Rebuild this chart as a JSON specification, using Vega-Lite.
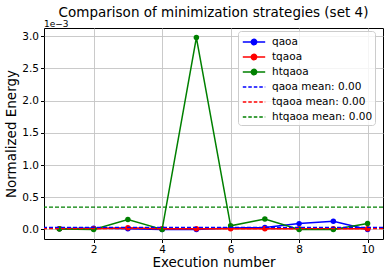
{
  "$schema": "https://vega.github.io/schema/vega-lite/v6.json",
  "width": 339,
  "height": 211,
  "autosize": {"type": "none"},
  "padding": {"left": 44, "top": 28, "right": 6, "bottom": 38},
  "title": {"text": "Comparison of minimization strategies (set 4)", "fontSize": 13.5, "fontWeight": "normal", "color": "black", "anchor": "middle", "offset": 1},
  "config": {
    "font": "DejaVu Sans",
    "view": {"stroke": "black", "strokeWidth": 1},
    "axis": {
      "domain": false,
      "grid": true,
      "gridColor": "#c4c4c4",
      "gridWidth": 0.9,
      "tickColor": "black",
      "tickSize": 3.5,
      "labelColor": "black",
      "labelFontSize": 10.5,
      "labelPadding": 2,
      "labelOverlap": false,
      "titleColor": "black",
      "titleFontSize": 13.5,
      "titleFontWeight": "normal"
    }
  },
  "datasets": {
    "runs": [
      {"execution": 1, "strategy": "qaoa", "energy": 0.00001},
      {"execution": 2, "strategy": "qaoa", "energy": 0.00002},
      {"execution": 3, "strategy": "qaoa", "energy": 0.00001},
      {"execution": 4, "strategy": "qaoa", "energy": 0.0},
      {"execution": 5, "strategy": "qaoa", "energy": 0.0},
      {"execution": 6, "strategy": "qaoa", "energy": 0.00002},
      {"execution": 7, "strategy": "qaoa", "energy": 0.00003},
      {"execution": 8, "strategy": "qaoa", "energy": 0.00009},
      {"execution": 9, "strategy": "qaoa", "energy": 0.000125},
      {"execution": 10, "strategy": "qaoa", "energy": 0.0},
      {"execution": 1, "strategy": "tqaoa", "energy": 0.00001},
      {"execution": 2, "strategy": "tqaoa", "energy": 0.00001},
      {"execution": 3, "strategy": "tqaoa", "energy": 0.000025},
      {"execution": 4, "strategy": "tqaoa", "energy": 0.00001},
      {"execution": 5, "strategy": "tqaoa", "energy": 0.00001},
      {"execution": 6, "strategy": "tqaoa", "energy": 0.00001},
      {"execution": 7, "strategy": "tqaoa", "energy": 0.00001},
      {"execution": 8, "strategy": "tqaoa", "energy": 0.00001},
      {"execution": 9, "strategy": "tqaoa", "energy": 0.00001},
      {"execution": 10, "strategy": "tqaoa", "energy": 0.00001},
      {"execution": 1, "strategy": "htqaoa", "energy": 0.000005},
      {"execution": 2, "strategy": "htqaoa", "energy": 0.0},
      {"execution": 3, "strategy": "htqaoa", "energy": 0.000155},
      {"execution": 4, "strategy": "htqaoa", "energy": 0.0},
      {"execution": 5, "strategy": "htqaoa", "energy": 0.00298},
      {"execution": 6, "strategy": "htqaoa", "energy": 0.000056},
      {"execution": 7, "strategy": "htqaoa", "energy": 0.00016},
      {"execution": 8, "strategy": "htqaoa", "energy": 0.0},
      {"execution": 9, "strategy": "htqaoa", "energy": 0.0},
      {"execution": 10, "strategy": "htqaoa", "energy": 0.000093}
    ],
    "means": [
      {"strategy": "qaoa mean: 0.00", "mean": 0.0000305},
      {"strategy": "tqaoa mean: 0.00", "mean": 0.000012},
      {"strategy": "htqaoa mean: 0.00", "mean": 0.000345}
    ],
    "exponent": [{"label": "1e−3"}]
  },
  "layer": [
    {
      "data": {"name": "runs"},
      "transform": [{"filter": "datum.strategy === 'qaoa'"}],
      "mark": {"type": "line", "strokeWidth": 1.5, "point": {"filled": true, "size": 30}},
      "encoding": {
        "x": {"field": "execution", "type": "quantitative", "scale": {"domain": [0.55, 10.45], "nice": false, "zero": false}, "axis": {"values": [2, 4, 6, 8, 10], "title": "Execution number", "titlePadding": 0}},
        "y": {"field": "energy", "type": "quantitative", "scale": {"domain": [-0.000149, 0.003129], "nice": false, "zero": false}, "axis": {"values": [0, 0.0005, 0.001, 0.0015, 0.002, 0.0025, 0.003], "labelExpr": "format(datum.value * 1000, '.1f')", "title": "Normalized Energy", "titlePadding": 3}},
        "color": {
          "field": "strategy", "type": "nominal",
          "scale": {
            "domain": ["qaoa", "tqaoa", "htqaoa", "qaoa mean: 0.00", "tqaoa mean: 0.00", "htqaoa mean: 0.00"],
            "range": ["#0000ff", "#ff0000", "#008000", "#0000ff", "#ff0000", "#008000"]
          },
          "legend": {
            "title": null,
            "orient": "none",
            "legendX": 194,
            "legendY": 3,
            "padding": 2,
            "fillColor": "rgba(255,255,255,0.8)",
            "strokeColor": "#cccccc",
            "cornerRadius": 3,
            "labelFontSize": 10.5,
            "labelColor": "black",
            "labelOffset": 9,
            "symbolSize": 256,
            "symbolOffset": 5,
            "symbolStrokeWidth": 1.5,
            "rowPadding": 0,
            "encode": {
              "legend": {"update": {"width": {"value": 140}}},
              "symbols": {
                "update": {
                  "shape": {"signal": "indexof(datum.value + '', 'mean') >= 0 ? 'M-1.4,0L1.4,0' : 'M-1.4,0L1.4,0M0.33,0A0.33,0.33 0 1,1 -0.33,0A0.33,0.33 0 1,1 0.33,0Z'"},
                  "strokeDash": {"signal": "indexof(datum.value + '', 'mean') >= 0 ? [3.5, 2] : [1, 0]"},
                  "fill": {"signal": "indexof(datum.value + '', 'mean') >= 0 ? 'transparent' : scale('color', datum.value)"},
                  "stroke": {"signal": "scale('color', datum.value)"},
                  "opacity": {"value": 1}
                }
              }
            }
          }
        }
      }
    },
    {
      "data": {"name": "runs"},
      "transform": [{"filter": "datum.strategy === 'tqaoa'"}],
      "mark": {"type": "line", "strokeWidth": 1.5, "point": {"filled": true, "size": 30}},
      "encoding": {
        "x": {"field": "execution", "type": "quantitative", "scale": {"domain": [0.55, 10.45], "nice": false, "zero": false}, "axis": {"values": [2, 4, 6, 8, 10], "title": "Execution number", "titlePadding": 0}},
        "y": {"field": "energy", "type": "quantitative", "scale": {"domain": [-0.000149, 0.003129], "nice": false, "zero": false}, "axis": {"values": [0, 0.0005, 0.001, 0.0015, 0.002, 0.0025, 0.003], "labelExpr": "format(datum.value * 1000, '.1f')", "title": "Normalized Energy", "titlePadding": 3}},
        "color": {"field": "strategy", "type": "nominal"}
      }
    },
    {
      "data": {"name": "runs"},
      "transform": [{"filter": "datum.strategy === 'htqaoa'"}],
      "mark": {"type": "line", "strokeWidth": 1.5, "point": {"filled": true, "size": 30}},
      "encoding": {
        "x": {"field": "execution", "type": "quantitative", "scale": {"domain": [0.55, 10.45], "nice": false, "zero": false}, "axis": {"values": [2, 4, 6, 8, 10], "title": "Execution number", "titlePadding": 0}},
        "y": {"field": "energy", "type": "quantitative", "scale": {"domain": [-0.000149, 0.003129], "nice": false, "zero": false}, "axis": {"values": [0, 0.0005, 0.001, 0.0015, 0.002, 0.0025, 0.003], "labelExpr": "format(datum.value * 1000, '.1f')", "title": "Normalized Energy", "titlePadding": 3}},
        "color": {"field": "strategy", "type": "nominal"}
      }
    },
    {
      "data": {"name": "means"},
      "mark": {"type": "rule", "strokeWidth": 1.2, "strokeDash": [4, 2]},
      "encoding": {
        "y": {"field": "mean", "type": "quantitative", "scale": {"domain": [-0.000149, 0.003129], "nice": false, "zero": false}, "axis": {"values": [0, 0.0005, 0.001, 0.0015, 0.002, 0.0025, 0.003], "labelExpr": "format(datum.value * 1000, '.1f')", "title": "Normalized Energy", "titlePadding": 3}},
        "color": {"field": "strategy", "type": "nominal"}
      }
    },
    {
      "data": {"name": "exponent"},
      "mark": {"type": "text", "align": "left", "baseline": "bottom", "dy": 1, "fontSize": 9, "color": "black"},
      "encoding": {
        "x": {"datum": 0.55, "type": "quantitative", "scale": {"domain": [0.55, 10.45], "nice": false, "zero": false}, "axis": {"values": [2, 4, 6, 8, 10], "title": "Execution number", "titlePadding": 0}},
        "y": {"datum": 0.003129, "type": "quantitative", "scale": {"domain": [-0.000149, 0.003129], "nice": false, "zero": false}, "axis": {"values": [0, 0.0005, 0.001, 0.0015, 0.002, 0.0025, 0.003], "labelExpr": "format(datum.value * 1000, '.1f')", "title": "Normalized Energy", "titlePadding": 3}},
        "text": {"field": "label", "type": "nominal"}
      }
    }
  ]
}
